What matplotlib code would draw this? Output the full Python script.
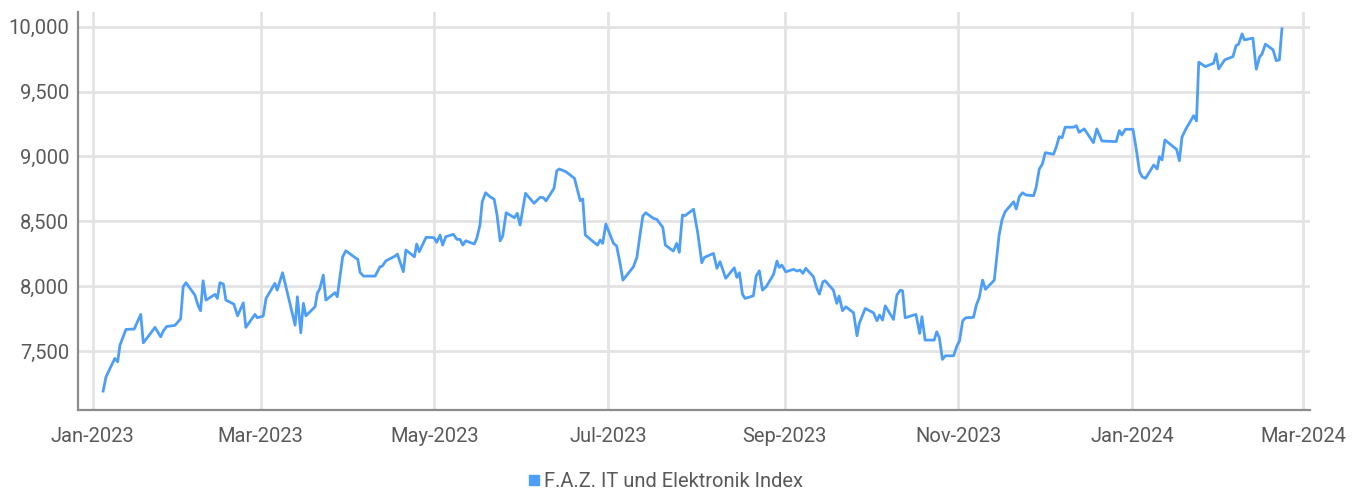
import matplotlib
matplotlib.use("Agg")
import matplotlib.pyplot as plt
import matplotlib.dates as mdates
from matplotlib.ticker import FuncFormatter
import pandas as pd

# Tage seit 2023-01-01 und Indexstand
days = [3.7, 4.7, 6.1, 7.8, 8.8, 9.6, 11.7, 14.6, 16.9, 17.8, 19.0, 21.9, 23.9, 24.8, 26.0,
        28.9, 30.9, 31.8, 32.8, 35.9, 37.1, 37.9, 38.8, 39.8, 43.0, 43.8, 44.7, 45.9, 46.8,
        49.6, 50.9, 52.9, 53.8, 57.0, 57.8, 59.9, 60.9, 64.0, 64.8, 66.7,
        71.1, 71.9, 73.1, 74.0, 74.9, 78.1, 78.9, 79.8, 81.0, 81.9, 85.1, 85.9, 87.8, 88.9,
        92.5, 93.1, 93.9, 95.1, 99.2, 100.9, 101.7, 103.0, 106.2, 107.0, 109.1, 110.0, 113.0,
        113.8, 114.7, 117.1, 119.9, 120.8, 122.0, 122.9, 124.0, 126.7, 127.9, 129.0, 130.0,
        131.0, 134.0, 134.9, 136.0, 136.8, 138.0, 139.5, 141.0, 142.0,
        143.1, 144.0, 145.2, 148.1, 149.1, 150.1, 152.0, 155.0, 157.1, 158.3, 159.2, 162.0,
        163.0, 163.9, 166.2, 169.2, 171.2, 172.1, 173.0, 176.5, 177.3, 178.2, 179.1, 180.2,
        182.9, 184.0, 185.2, 186.2, 189.9, 191.1, 192.2, 193.2, 194.2, 196.9, 198.1, 200.2,
        201.1, 203.9, 205.1, 206.0, 207.1, 208.0, 211.0, 212.5, 213.9, 214.8, 218.0, 219.2,
        220.3, 222.3, 225.3, 226.2, 227.1, 228.2, 229.1, 232.0, 233.0, 234.1, 235.2, 236.5,
        239.1, 240.3, 241.1, 242.0, 243.4, 246.1, 247.3, 248.4, 249.4, 250.4, 253.1, 254.3,
        255.2, 256.4, 257.2, 260.1, 261.3, 262.1, 263.3, 264.5, 267.2, 268.4, 269.2, 271.3,
        274.2, 275.4, 276.3, 277.4, 278.3, 281.2, 282.4, 283.6, 284.4, 285.3, 289.1, 290.4,
        291.2, 292.3, 295.5, 296.4, 297.3, 298.4, 299.4, 302.3, 303.5, 304.4, 305.5, 306.6,
        309.3, 310.3, 311.3, 312.5, 313.5, 316.6, 317.5, 318.3, 319.3, 320.4, 323.4, 324.3,
        325.4, 326.5, 327.7, 330.4, 331.3, 332.4, 333.5, 334.5, 337.4, 338.4, 339.4, 340.4,
        341.5, 344.4, 345.4, 346.4, 348.2, 351.4, 352.6, 354.4, 359.4, 360.5, 361.4, 362.6,
        365.3, 366.5, 367.6, 368.5, 369.7, 372.6, 373.8, 374.6, 375.5, 376.5, 380.6, 381.6,
        382.5, 383.7, 386.6, 387.6, 388.4, 390.7, 393.6, 394.5, 395.4, 397.5, 400.4, 401.5,
        402.4, 403.6, 404.4, 407.4, 408.6, 409.8, 410.6, 411.8, 414.5, 415.6, 416.7, 417.6]

values = [7192, 7302, 7367, 7444, 7418, 7546, 7667, 7670, 7783, 7564, 7598, 7683, 7610, 7654, 7690,
          7698, 7749, 7996, 8027, 7932, 7847, 7811, 8042, 7893, 7937, 7906, 8027, 8017, 7893,
          7862, 7772, 7872, 7683, 7783, 7757, 7770, 7906, 8022, 7970, 8104,
          7700, 7919, 7641, 7868, 7772, 7842, 7945, 7983, 8086, 7893, 7950, 7919, 8227, 8273,
          8215, 8209, 8107, 8078, 8078, 8150, 8155, 8196, 8232, 8248, 8112, 8279, 8227,
          8325, 8266, 8377, 8374, 8338, 8394, 8317, 8381, 8400, 8361, 8361, 8317,
          8350, 8325, 8369, 8471, 8651, 8720, 8690, 8670, 8549,
          8350, 8387, 8566, 8528, 8562, 8471, 8716, 8639, 8685, 8682, 8657, 8754,
          8890, 8903, 8882, 8831, 8659, 8672, 8394, 8330, 8317, 8356, 8330, 8479,
          8330, 8310, 8176, 8047, 8150, 8222, 8394, 8541, 8566, 8523, 8515, 8454,
          8317, 8271, 8330, 8261, 8549, 8543, 8593, 8407, 8181, 8222, 8253, 8138,
          8189, 8061, 8142, 8068, 8104, 7937, 7906, 7926, 8078, 8119, 7970, 7996,
          8091, 8194, 8145, 8163, 8111, 8130, 8117, 8125, 8099, 8138, 8073, 7983,
          7939, 8034, 8042, 7970, 7868, 7924, 7811, 7842, 7795, 7618, 7714, 7829,
          7795, 7734, 7778, 7739, 7849, 7744, 7932, 7970, 7965, 7757, 7783, 7636,
          7765, 7585, 7585, 7649, 7603, 7436, 7464, 7464, 7541, 7579, 7734, 7757,
          7760, 7855, 7911, 8047, 7976, 8047, 8227, 8394, 8510, 8574, 8651, 8595,
          8690, 8720, 8703, 8697, 8762, 8903, 8942, 9029, 9017, 9075, 9152, 9144,
          9225, 9225, 9237, 9186, 9212, 9106, 9212, 9119, 9114, 9199, 9165, 9209,
          9209, 9049, 8882, 8844, 8831, 8934, 8903, 8998, 8973, 9127, 9055, 8967,
          9148, 9204, 9314, 9273, 9726, 9692, 9718, 9790, 9674, 9744, 9769, 9854,
          9865, 9944, 9898, 9911, 9672, 9769, 9788, 9865, 9821, 9738, 9744, 9983]

series_name = "F.A.Z. IT und Elektronik Index"
y_ticks = [7500, 8000, 8500, 9000, 9500, 10000]
x_ticks = ["2023-01-01", "2023-03-01", "2023-05-01", "2023-07-01", "2023-09-01",
           "2023-11-01", "2024-01-01", "2024-03-01"]

start = pd.Timestamp("2023-01-01")
dates = start + pd.to_timedelta(days, unit="D")

plt.rcParams['font.family'] = ['Roboto', 'DejaVu Sans']

fig = plt.figure(figsize=(13.65, 4.93), dpi=100)
ax = fig.add_axes([0.057, 0.168, 0.903, 0.808])

line_color = "#4d9ef7"
ax.plot(dates, values, color=line_color, lw=2.0, solid_joinstyle="round")

ax.set_ylim(7045, 10114)
ax.set_xlim(start + pd.Timedelta(days=-5.2), start + pd.Timedelta(days=427.6))

ax.set_yticks(y_ticks)
ax.yaxis.set_major_formatter(FuncFormatter(lambda v, p: f"{int(v):,}"))
ax.set_xticks(pd.to_datetime(x_ticks))
ax.xaxis.set_major_formatter(mdates.DateFormatter("%b-%Y"))

ax.grid(True, color="#e3e3e3", lw=2)
ax.set_axisbelow(True)
for s in ["top", "right"]:
    ax.spines[s].set_visible(False)
for s in ["left", "bottom"]:
    ax.spines[s].set_color("#8c8c8c")
    ax.spines[s].set_linewidth(1.6)

ax.tick_params(length=0, labelsize=14.5, labelcolor="#595959")
ax.tick_params(axis="x", pad=12)
ax.tick_params(axis="y", pad=6)

ax.legend([plt.Line2D([], [], marker="s", ls="", color=line_color, markersize=7)],
          [series_name], loc="center", bbox_to_anchor=(0.476, -0.178),
          frameon=False, fontsize=14.5, handletextpad=0.1, labelcolor="#595959",
          handlelength=0.8)

fig.savefig("out.png", dpi=100)
